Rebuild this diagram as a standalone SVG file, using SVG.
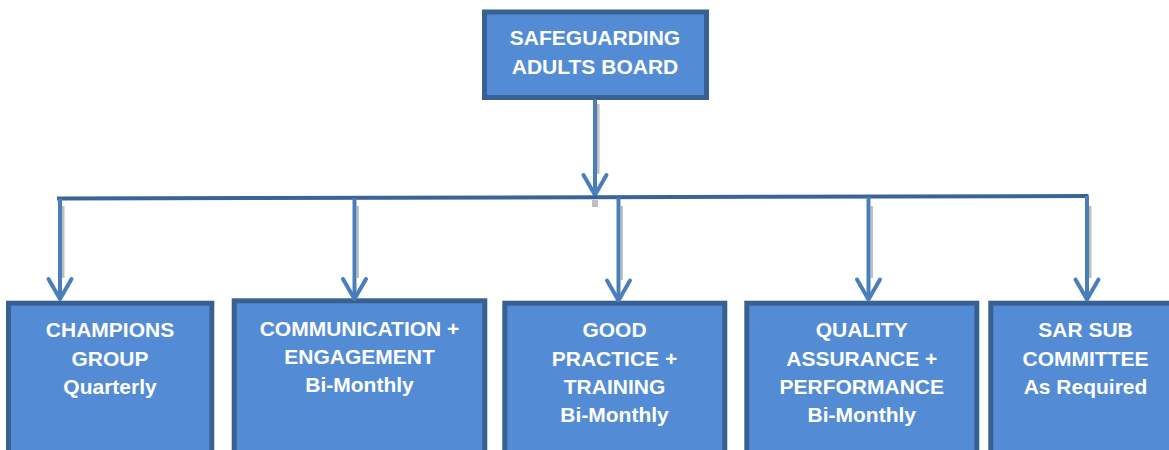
<svg xmlns="http://www.w3.org/2000/svg" width="1169" height="450" viewBox="0 0 1169 450">
  <style>
    .box { fill: #538CD5; stroke: #386192; stroke-width: 5; }
    .lbl { font-family: "Liberation Sans", Arial, sans-serif; font-weight: bold; font-size: 21px; fill: #FFFFFF; text-anchor: middle; }
    .bus { fill: none; stroke: #3A6496; stroke-width: 4; }
    .drop { fill: none; stroke: #4A7EBB; stroke-width: 4; marker-end: url(#chev); }
    .shade { fill: #A9A9A9; opacity: 0.75; }
  </style>
  <defs>
    <marker id="chev" markerUnits="userSpaceOnUse" orient="auto" overflow="visible" refX="0" refY="0" markerWidth="1" markerHeight="1">
      <path d="M-20,-11.5 L0,0 L-20,11.5" fill="none" stroke="#4A7EBB" stroke-width="4" stroke-linecap="round" stroke-linejoin="round"/>
    </marker>
  </defs>

  <g id="board">
    <rect class="box" x="484.5" y="12" width="222" height="85.5"/>
    <text class="lbl" x="595" y="45">SAFEGUARDING</text>
    <text class="lbl" x="595" y="74">ADULTS BOARD</text>
  </g>

  <g id="champions">
    <rect class="box" x="8.5" y="303.2" width="203.3" height="160"/>
    <text class="lbl" x="110" y="337.3">CHAMPIONS</text>
    <text class="lbl" x="110" y="366">GROUP</text>
    <text class="lbl" x="110" y="393.5">Quarterly</text>
  </g>

  <g id="communication">
    <rect class="box" x="234.2" y="300.8" width="250.6" height="165"/>
    <text class="lbl" x="359.5" y="336">COMMUNICATION +</text>
    <text class="lbl" x="359.5" y="364.3">ENGAGEMENT</text>
    <text class="lbl" x="359.5" y="392.3">Bi-Monthly</text>
  </g>

  <g id="good-practice">
    <rect class="box" x="504.8" y="303.2" width="220" height="160"/>
    <text class="lbl" x="614.5" y="337.3">GOOD</text>
    <text class="lbl" x="614.5" y="365.7">PRACTICE +</text>
    <text class="lbl" x="614.5" y="394">TRAINING</text>
    <text class="lbl" x="614.5" y="422.3">Bi-Monthly</text>
  </g>

  <g id="quality">
    <rect class="box" x="746.8" y="303.2" width="230" height="160"/>
    <text class="lbl" x="861.8" y="337.3">QUALITY</text>
    <text class="lbl" x="861.8" y="365.7">ASSURANCE +</text>
    <text class="lbl" x="861.8" y="394">PERFORMANCE</text>
    <text class="lbl" x="861.8" y="422.3">Bi-Monthly</text>
  </g>

  <g id="sar">
    <rect class="box" x="990.8" y="303.2" width="200" height="160"/>
    <text class="lbl" x="1085.5" y="337.3">SAR SUB</text>
    <text class="lbl" x="1085.5" y="365.7">COMMITTEE</text>
    <text class="lbl" x="1085.5" y="393.5">As Required</text>
  </g>

  <g id="connectors">
    <!-- soft shadows beside the vertical lines -->
    <rect class="shade" x="597" y="104" width="2.5" height="70"/>
    <rect class="shade" x="592" y="200" width="6" height="7"/>
    <rect class="shade" x="62" y="206" width="2.5" height="72"/>
    <rect class="shade" x="356.5" y="206" width="2.5" height="72"/>
    <rect class="shade" x="620.5" y="206" width="2.5" height="74"/>
    <rect class="shade" x="870.5" y="206" width="2.5" height="72"/>
    <rect class="shade" x="1089" y="206" width="2.5" height="72"/>

    <!-- board down to the bus -->
    <line class="drop" x1="595" y1="99.5" x2="595" y2="195"/>
    <!-- horizontal bus -->
    <line class="bus" x1="57" y1="198.5" x2="1088.5" y2="196"/>
    <!-- bus down to each group -->
    <line class="drop" x1="60" y1="198.5" x2="60" y2="299"/>
    <line class="drop" x1="354.5" y1="198" x2="354.5" y2="299"/>
    <line class="drop" x1="618.5" y1="197.5" x2="618.5" y2="300.5"/>
    <line class="drop" x1="868.5" y1="197" x2="868.5" y2="299.5"/>
    <line class="drop" x1="1087" y1="196" x2="1087" y2="299.5"/>
  </g>
</svg>
